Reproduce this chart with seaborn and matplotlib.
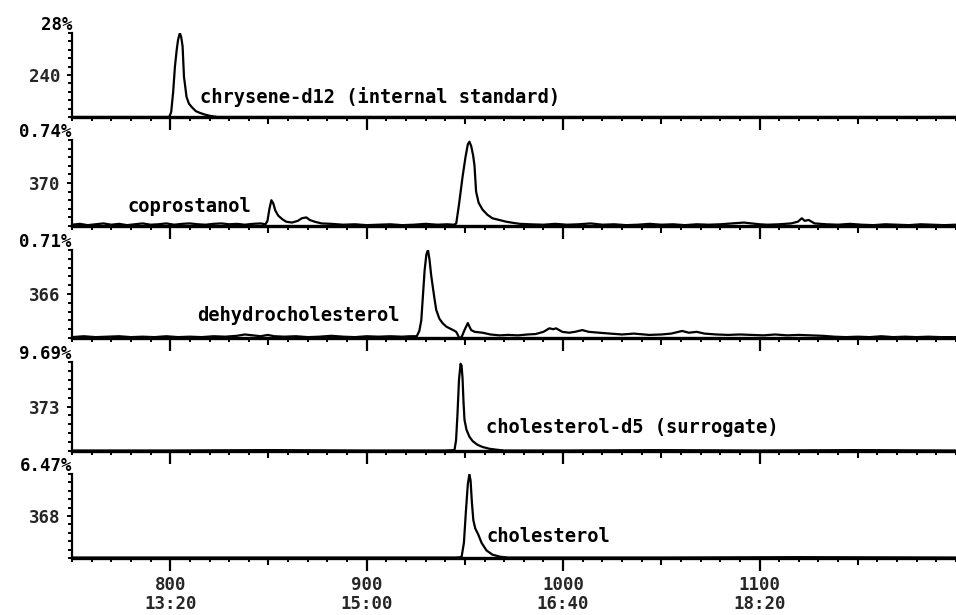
import matplotlib
matplotlib.use("Agg")
import matplotlib.pyplot as plt
import pandas as pd
import seaborn as sns
from matplotlib.ticker import FixedLocator, MultipleLocator

# --- extracted ion chromatograms (scan number, relative abundance %) ---
ions = ["240", "370", "366", "373", "368"]
scale_pct = ["28%", "0.74%", "0.71%", "9.69%", "6.47%"]
compounds = ["chrysene-d12 (internal standard)", "coprostanol",
             "dehydrocholesterol", "cholesterol-d5 (surrogate)", "cholesterol"]
label_scan = [815, 778.5, 813.5, 961, 961]
label_level = [24, 23, 26, 26, 26]

scan_ticks = [800, 900, 1000, 1100]
time_ticks = ["13:20", "15:00", "16:40", "18:20"]

trace_240 = [(750, 0), (799.5, 0), (800.5, 6), (801.5, 30), (802.4, 60), (803.3, 80),
             (804.0, 92), (804.9, 100), (805.6, 95), (806.3, 84), (807.0, 48),
             (808.3, 24), (809.5, 16), (810.9, 12), (813.0, 7), (815.0, 5),
             (817.5, 3), (820.0, 1.5), (824.0, 0), (1200, 0)]

trace_370 = [(750, 1.5), (754, 2.5), (758, 1.0), (762, 2.0), (766, 3.0), (770, 1.5),
             (774, 2.5), (778, 1.0), (782, 2.0), (786, 3.0), (790, 1.5), (794, 2.0),
             (798, 3.0), (802, 1.5), (806, 2.5), (810, 3.0), (814, 2.0), (818, 1.5),
             (822, 2.5), (826, 3.0), (830, 2.0), (834, 2.5), (838, 1.5), (842, 2.5),
             (846, 3.0), (848.5, 2.0), (849.5, 6), (850.5, 20), (851.5, 30), (852.5, 26),
             (853.5, 18), (855, 12), (857, 8), (859, 5), (862, 4), (865, 6), (867, 9),
             (869.3, 10), (871, 7), (873.5, 5), (877, 3), (882, 2.5), (888, 1.5),
             (894, 2), (900, 1), (906, 1.5), (912, 2), (918, 1), (924, 1.5), (930, 2.5),
             (936, 1.5), (941, 2), (944.5, 1.5), (945.6, 3), (947, 25), (948.8, 57),
             (950.3, 80), (951.5, 95), (952.3, 98), (953.2, 93), (954.2, 82),
             (954.9, 70), (955.7, 40), (957, 27), (959, 19), (961.5, 13), (964, 9),
             (967.5, 7), (971, 5), (975, 3.5), (978, 2.5), (983, 2), (990, 1.5),
             (996, 2.5), (1002, 1.5), (1008, 2), (1014, 3), (1020, 1.5), (1026, 2),
             (1032, 1), (1038, 1.5), (1044, 2.5), (1050, 1.5), (1056, 2), (1062, 1),
             (1068, 2), (1074, 1.5), (1080, 2), (1086, 3), (1092, 4), (1096, 3),
             (1100, 2), (1104, 1.5), (1110, 2), (1116, 3), (1119.5, 5), (1121.5, 9),
             (1123, 6), (1125, 7), (1128, 3), (1134, 2), (1140, 1.5), (1146, 2.5),
             (1152, 1.5), (1158, 1), (1164, 2), (1170, 1.5), (1176, 1), (1182, 2),
             (1188, 1.5), (1194, 1), (1200, 1.5)]

trace_366 = [(750, 1), (756, 2), (762, 1), (768, 1.5), (774, 2), (780, 1), (786, 1.5),
             (792, 1), (798, 2), (804, 1), (810, 1.5), (816, 1), (822, 2), (828, 1.5),
             (834, 2.5), (838, 4), (842, 3), (846, 2), (849.6, 3.5), (853, 2),
             (858, 1.5), (864, 2), (870, 1), (876, 1.5), (882, 2.5), (888, 1.5),
             (894, 1), (900, 2), (906, 1.5), (912, 2), (918, 1.5), (922, 2),
             (925.5, 2), (926.8, 8), (927.8, 20), (928.7, 50), (929.5, 77),
             (930.4, 95), (931.2, 100), (932, 89), (932.8, 72), (933.6, 59),
             (934.5, 45), (935.4, 32), (937, 22), (938.6, 17), (940.5, 13),
             (942.2, 11), (944, 9), (945.6, 7), (946.5, 3), (947.3, -1), (948.5, 2),
             (950, 10), (951.5, 17), (952.3, 13), (953.2, 9), (955, 7), (957, 6.5),
             (959, 6), (963, 4), (967.6, 3), (972, 3.5), (977, 3), (982, 4),
             (986, 4.5), (990, 7), (993, 11), (995, 10), (996.4, 11), (998, 9),
             (999.6, 7), (1003, 6), (1006, 7), (1009.8, 9), (1013, 7), (1018.4, 6),
             (1024, 5), (1030, 4), (1036, 5), (1043.8, 3.5), (1050, 4), (1055, 5),
             (1060.6, 8), (1064, 6), (1068, 7), (1072, 5), (1078, 4), (1084, 3.5),
             (1090, 4), (1096, 3.5), (1102, 3), (1108, 4), (1114, 3), (1120, 3.5),
             (1126, 3), (1132, 2.5), (1138, 1.5), (1144, 1), (1150, 1.5), (1156, 1),
             (1162, 2), (1168, 1), (1174, 1.5), (1180, 1), (1186, 1.5), (1192, 1),
             (1200, 1)]

trace_373 = [(750, 0.5), (800, 0.5), (850, 1), (900, 0.5), (940, 0.5), (944.7, 1),
             (945.5, 12), (946.2, 40), (947, 80), (947.8, 98), (948.3, 96),
             (948.8, 82), (949.3, 55), (949.8, 35), (950.8, 24), (952.3, 16),
             (954, 11), (956.4, 7), (959, 4.5), (962.5, 2.5), (966, 1.5), (970, 0.5),
             (1000, 0.5), (1050, 1), (1100, 0.5), (1150, 1), (1200, 0.5)]

trace_368 = [(750, 0.5), (800, 0.5), (850, 0.5), (900, 0.5), (945, 0.5), (948.3, 1),
             (949.5, 18), (950.5, 55), (951.5, 88), (952.3, 100), (952.9, 92),
             (953.6, 65), (954.3, 45), (955.3, 35), (956.8, 28), (958.5, 18),
             (961, 9), (964, 4), (968, 1.5), (972, 0.5), (1050, 0.5), (1120, 1),
             (1200, 0.5)]

traces = [trace_240, trace_370, trace_366, trace_373, trace_368]

# --- figure layout (pixel rows of each strip) ---
W, H = 956, 615
strip_top = [33, 140, 250, 362, 474]
strip_bottom = [117, 226, 338, 451, 558]
left_px = 72

sns.set_style("ticks")
plt.rcParams["font.family"] = ["DejaVu Sans Mono", "DejaVu Sans"]
plt.rcParams["font.weight"] = "bold"

fig = plt.figure(figsize=(W / 100, H / 100), dpi=100)
ink = "black"
tick_size = 12.5
name_size = 13.5

for i, trace in enumerate(traces):
    top, bot = strip_top[i], strip_bottom[i]
    ax = fig.add_axes([left_px / W, 1 - bot / H, 1 - left_px / W, (bot - top) / H])
    df = pd.DataFrame(trace, columns=["scan", "abundance"])
    sns.lineplot(data=df, x="scan", y="abundance", ax=ax, color=ink,
                 linewidth=1.6, sort=False, estimator=None)
    ax.set_xlim(750, 1200)
    ax.set_ylim(0, 100)
    ax.set_xlabel("")
    ax.set_ylabel("")

    for side in ("top", "right"):
        ax.spines[side].set_visible(False)
    ax.spines["left"].set_linewidth(1.6)
    ax.spines["bottom"].set_linewidth(2.4)
    ax.spines["left"].set_color(ink)
    ax.spines["bottom"].set_color(ink)

    # x ticks: long every 100 scans, short every 10
    ax.xaxis.set_major_locator(FixedLocator(scan_ticks))
    ax.xaxis.set_minor_locator(MultipleLocator(10))
    ax.tick_params(axis="x", which="major", direction="out", length=9,
                   width=1.6, color=ink, pad=4, labelsize=tick_size)
    ax.tick_params(axis="x", which="minor", direction="out", length=3.2,
                   width=1.4, color=ink)
    # medium ticks every 50 scans
    mid = ax.secondary_xaxis("bottom")
    mid.spines["bottom"].set_visible(False)
    mid.set_xticks([850, 950, 1050, 1150])
    mid.tick_params(axis="x", direction="out", length=5.2, width=1.5,
                    color=ink, labelbottom=False)

    if i == len(traces) - 1:
        ax.set_xticklabels([f"{s}\n{t}" for s, t in zip(scan_ticks, time_ticks)],
                           fontsize=tick_size, fontweight="bold",
                           linespacing=1.1)
    else:
        ax.set_xticklabels([])

    # y ticks: every 10 %, ion label at mid height
    ax.yaxis.set_major_locator(FixedLocator([50]))
    ax.yaxis.set_minor_locator(MultipleLocator(10))
    ax.set_yticklabels([ions[i]], fontsize=tick_size, fontweight="bold")
    ax.tick_params(axis="y", which="major", direction="out", length=3.5,
                   width=1.4, color=ink, pad=5)
    ax.tick_params(axis="y", which="minor", direction="out", length=3.0,
                   width=1.4, color=ink)

    # full-scale percentage above each strip
    ax.annotate(scale_pct[i], xy=(0, 1), xycoords="axes fraction",
                xytext=(0, 6), textcoords="offset points",
                ha="right", va="center", fontsize=tick_size, fontweight="bold",
                color=ink)

    # compound name
    ax.text(label_scan[i], label_level[i], compounds[i], ha="left", va="center",
            fontsize=name_size, fontweight="bold", color=ink)

fig.savefig("out.png", dpi=100, facecolor="white")
